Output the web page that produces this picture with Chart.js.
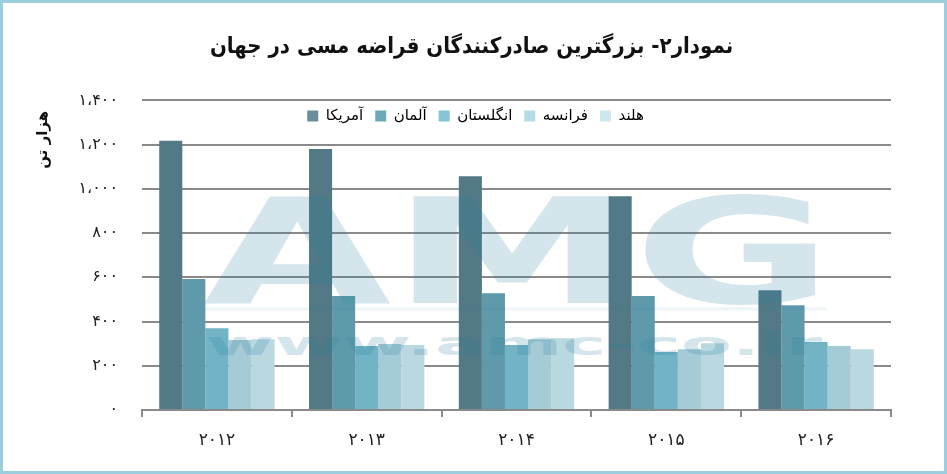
<!DOCTYPE html>
<html lang="fa">
<head>
<meta charset="UTF-8">
<title>نمودار۲</title>
<script src="https://cdn.jsdelivr.net/npm/chart.js@4.4.0/dist/chart.umd.min.js"></script>
<style>
  body { margin: 0; background: #fff; }
  #wrap { position: relative; width: 947px; height: 474px; }
  #frame {
    position: absolute; left: 0; top: 0; width: 947px; height: 474px;
    box-sizing: border-box; border: 3px solid #9ccfdd; pointer-events: none;
  }
</style>
</head>
<body>
<div id="wrap">
  <canvas id="myChart" width="947" height="474"></canvas>
  <div id="frame"></div>
</div>

<script>
// data (thousand tonnes)
var years = ['۲۰۱۲', '۲۰۱۳', '۲۰۱۴', '۲۰۱۵', '۲۰۱۶'];
var usa = [1218, 1180, 1057, 967, 542];
var germany = [592, 515, 528, 515, 474];
var uk = [370, 289, 294, 262, 307];
var france = [316, 298, 320, 275, 289];
var netherlands = [320, 294, 325, 302, 275];
var countryNames = ['آمریکا', 'آلمان', 'انگلستان', 'فرانسه', 'هلند'];
var yTickLabels = ['۰', '۲۰۰', '۴۰۰', '۶۰۰', '۸۰۰', '۱،۰۰۰', '۱،۲۰۰', '۱،۴۰۰'];

var barColors = ['#527985', '#5f9aab', '#72b3c6', '#a5cbd6', '#b9d8e0'];
var legendColors = ['#6b8f9a', '#6fa9b9', '#86c5d7', '#b4dce6', '#cce7ed'];
var FONT = "'DejaVu Sans', sans-serif";
var FONT_C = "'DejaVu Sans Condensed', 'DejaVu Sans', sans-serif";

var series = [usa, germany, uk, france, netherlands];
var datasets = series.map(function (vals, i) {
  return {
    label: countryNames[i],
    data: vals,
    backgroundColor: barColors[i],
    borderWidth: 0,
    categoryPercentage: 0.77,
    barPercentage: 1
  };
});

// faint AMG watermark on top of the bars
var watermark = {
  id: 'watermark',
  afterDatasetsDraw: function (chart) {
    var ctx = chart.ctx, a = chart.chartArea;
    var wm = 'rgba(40,130,160,0.2)';
    ctx.save();
    ctx.fillStyle = wm;
    ctx.textBaseline = 'alphabetic';
    ctx.textAlign = 'left';
    ctx.font = 'bold 146px ' + FONT;
    var w = ctx.measureText('AMG').width;
    var x0 = a.left + 61, x1 = a.left + 691;
    ctx.translate(x0, a.top + 203);
    ctx.scale((x1 - x0) / w, 1);
    ctx.fillText('AMG', 0, 0);
    ctx.restore();

    ctx.save();
    ctx.fillStyle = 'rgba(40,130,160,0.08)';
    ctx.fillRect(a.left + 64, a.top + 207, 620, 3);
    ctx.restore();

    ctx.save();
    ctx.fillStyle = wm;
    ctx.font = 'bold 32px ' + FONT;
    var w2 = ctx.measureText('www.amc-co.ir').width;
    ctx.translate(a.left + 64, a.top + 246);
    ctx.scale(616 / w2, 1);
    ctx.fillText('www.amc-co.ir', 0, 0);
    ctx.restore();
  }
};

// move the legend down into the plot and nudge title / legend sideways
var placeBoxes = {
  id: 'placeBoxes',
  afterLayout: function (chart) {
    var lg = chart.legend, tb = chart.titleBlock, a = chart.chartArea;
    if (lg) {
      var dy = a.top - 4 - lg.top;
      lg.top += dy; lg.bottom += dy;
      lg.left += 30; lg.right += 30;
    }
    if (tb) {
      tb.left += 26; tb.right += 26;
    }
  }
};

var ctx = document.getElementById('myChart').getContext('2d');
var myChart = new Chart(ctx, {
  type: 'bar',
  data: { labels: years, datasets: datasets },
  plugins: [watermark, placeBoxes],
  options: {
    responsive: false,
    animation: false,
    layout: { padding: { left: 0, right: 56, top: 0, bottom: 0 } },
    plugins: {
      title: {
        display: true,
        text: 'نمودار۲- بزرگترین صادرکنندگان قراضه مسی در جهان',
        color: '#111',
        font: { family: FONT_C, size: 22, weight: 'bold' },
        padding: { top: 34, bottom: 3 }
      },
      legend: {
        position: 'top',
        labels: {
          boxWidth: 11,
          boxHeight: 11,
          padding: 12,
          color: '#222',
          font: { family: FONT, size: 15 },
          generateLabels: function (chart) {
            return chart.data.datasets.map(function (ds, i) {
              return {
                text: ds.label,
                fillStyle: legendColors[i],
                strokeStyle: legendColors[i],
                lineWidth: 0,
                datasetIndex: i,
                hidden: false
              };
            });
          }
        }
      },
      tooltip: { enabled: false }
    },
    scales: {
      x: {
        afterFit: function (s) { s.height = 64; },
        grid: {
          display: true,
          drawOnChartArea: false,
          drawTicks: true,
          tickLength: 7,
          offset: true,
          color: '#8a8a8a',
          lineWidth: 2
        },
        border: { display: true, color: '#8a8a8a', width: 2 },
        ticks: {
          color: '#222',
          padding: 13,
          font: { family: FONT, size: 17 }
        }
      },
      y: {
        min: 0,
        max: 1400,
        afterFit: function (s) { s.width = 142; },
        grid: { color: '#8a8a8a', lineWidth: 2, drawTicks: false },
        border: { display: false },
        ticks: {
          stepSize: 200,
          padding: 24,
          color: '#222',
          font: { family: FONT, size: 16 },
          callback: function (v, i) { return yTickLabels[i]; }
        },
        title: {
          display: true,
          text: 'هزار تن\u00a0\u00a0',
          align: 'end',
          color: '#111',
          font: { family: FONT, size: 15, weight: 'bold' },
          padding: { top: 34, bottom: 0 }
        }
      }
    }
  }
});
</script>
</body>
</html>
